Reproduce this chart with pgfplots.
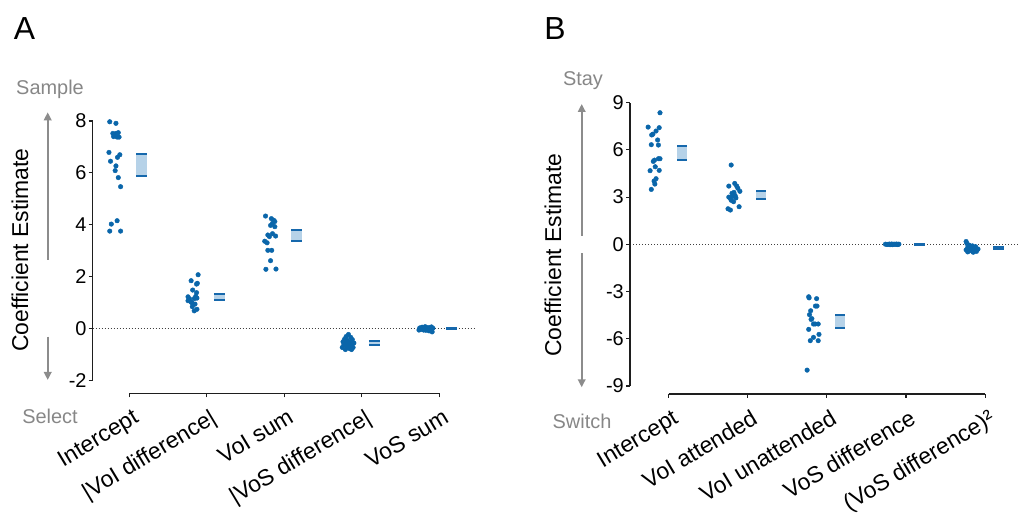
\documentclass[border=0pt]{standalone}
\usepackage{fontspec}
\setmainfont{Liberation Sans}
\usepackage{pgfplots}
\usepackage{pgfplotstable}
\pgfplotsset{compat=1.18}
\usetikzlibrary{arrows.meta}

\definecolor{dotblue}{RGB}{10,102,170}
\definecolor{boxfill}{RGB}{182,210,232}
\definecolor{boxedge}{RGB}{22,104,172}
\definecolor{arrowgray}{RGB}{140,140,140}
\definecolor{labelgray}{RGB}{135,135,135}
\definecolor{axisblack}{RGB}{30,30,30}

% ---------- Panel A: individual estimates (x = category + jitter) ----------
\pgfplotstableread{
x y
-0.25 7.97
-0.17 7.91
-0.21 7.52
-0.17 7.52
-0.14 7.55
-0.20 7.40
-0.155 7.38
-0.13 7.38
-0.26 6.79
-0.12 6.70
-0.15 6.60
-0.24 6.45
-0.17 6.27
-0.18 6.09
-0.14 5.82
-0.11 5.47
-0.155 4.16
-0.23 4.03
-0.25 3.76
-0.11 3.76
}\aIntercept

\pgfplotstableread{
x y
0.89 2.08
0.80 1.85
0.88 1.75
0.87 1.72
0.82 1.49
0.87 1.39
0.76 1.23
0.875 1.18
0.84 1.16
0.76 1.08
0.80 1.03
0.85 0.95
0.815 0.85
0.84 0.69
0.875 0.75
0.78 1.15
0.81 1.00
0.86 1.25
}\aVoIdiff

\pgfplotstableread{
x y
1.76 4.34
1.835 4.24
1.865 4.18
1.88 4.13
1.85 4.06
1.825 3.98
1.88 3.93
1.85 3.66
1.79 3.61
1.89 3.57
1.81 3.55
1.75 3.37
1.78 3.31
1.79 3.02
1.84 3.02
1.825 2.62
1.765 2.29
1.895 2.30
}\aVoIsum

\pgfplotstableread{
x y
2.83 -0.22
2.80 -0.30
2.86 -0.33
2.78 -0.40
2.88 -0.42
2.82 -0.45
2.76 -0.50
2.85 -0.52
2.80 -0.55
2.90 -0.55
2.83 -0.60
2.77 -0.62
2.87 -0.65
2.81 -0.68
2.75 -0.72
2.89 -0.72
2.84 -0.76
2.79 -0.80
2.87 -0.80
2.82 -0.70
}\aVoSdiff

\pgfplotstableread{
x y
3.75 0.03
3.78 0.06
3.81 0.02
3.84 0.05
3.87 0.04
3.90 0.07
3.76 -0.03
3.80 -0.05
3.85 -0.02
3.89 -0.04
3.91 -0.12
3.83 -0.06
3.87 -0.08
3.74 -0.05
3.79 0.00
3.88 0.00
3.82 0.08
3.92 0.02
}\aVoSsum

% ---------- Panel B: individual estimates ----------
\pgfplotstableread{
x y
-0.11 8.36
-0.26 7.45
-0.12 7.41
-0.16 7.20
-0.20 7.00
-0.215 6.95
-0.14 6.63
-0.22 6.33
-0.13 6.31
-0.195 5.27
-0.13 5.44
-0.11 5.44
-0.18 5.35
-0.17 4.93
-0.235 4.68
-0.12 4.70
-0.16 4.17
-0.185 4.02
-0.175 3.83
-0.22 3.49
}\bIntercept

\pgfplotstableread{
x y
0.79 5.04
0.76 3.70
0.835 3.87
0.86 3.70
0.875 3.56
0.90 3.37
0.80 3.24
0.76 3.00
0.775 2.95
0.80 3.03
0.84 3.10
0.82 2.71
0.89 2.39
0.75 2.26
0.78 2.18
0.79 2.80
0.85 2.95
0.825 3.30
}\bVoIatt

\pgfplotstableread{
x y
1.77 -3.33
1.87 -3.45
1.775 -3.40
1.855 -3.92
1.875 -3.92
1.795 -4.22
1.78 -4.47
1.80 -4.77
1.81 -4.72
1.83 -5.06
1.85 -5.06
1.89 -5.06
1.77 -5.40
1.90 -5.72
1.83 -5.91
1.79 -6.12
1.89 -6.12
1.75 -7.99
}\bVoIunatt

\pgfplotstableread{
x y
2.74 0.01
2.77 -0.01
2.79 0.02
2.81 0.00
2.83 -0.02
2.85 0.01
2.87 0.00
2.89 -0.01
2.91 0.01
2.76 0.00
2.82 0.02
2.88 0.02
2.80 -0.02
2.84 0.00
2.90 0.00
}\bVoSdiff

\pgfplotstableread{
x y
3.76 0.18
3.77 0.05
3.80 -0.05
3.84 -0.10
3.88 -0.15
3.78 -0.20
3.82 -0.25
3.86 -0.30
3.90 -0.35
3.76 -0.35
3.80 -0.40
3.84 -0.45
3.89 -0.45
3.78 -0.48
3.87 -0.20
3.82 -0.15
3.91 -0.30
3.85 -0.50
}\bVoSdiffsq

% confidence box: left x, right x, lower, upper
\newcommand\cibox[4]{%
  \addplot[draw=none, fill=boxfill] coordinates {(#1,#3) (#2,#3) (#2,#4) (#1,#4)};
  \addplot[boxedge, line width=2bp] coordinates {(#1,#3) (#2,#3)};
  \addplot[boxedge, line width=2bp] coordinates {(#1,#4) (#2,#4)};
}

\pgfplotsset{
  coefaxis/.style={
    scale only axis, clip=false,
    axis x line*=bottom, axis y line*=left,
    axis line style={draw=none},
    tick align=outside,
    major tick length=4bp,
    tick style={line width=1.1bp, color=axisblack},
    xtick={0,1,2,3,4},
    yticklabel style={font=\fontsize{20}{24}\selectfont, inner sep=2bp},
    xticklabel style={font=\fontsize{23}{27}\selectfont, xshift=3bp, yshift=-9bp,
      rotate=31, anchor=north east, inner sep=1bp},
  },
  dots/.style={only marks, mark=*, mark size=2.3bp, color=dotblue,
    mark options={draw=dotblue, fill=dotblue}},
}
\tikzset{
  axline/.style={line width=1.1bp, color=axisblack},
  zeroline/.style={line width=1.2bp, color=black!75, dash pattern=on 1.3bp off 1.7bp},
  grayarrow/.style={line width=2.4bp, color=arrowgray,
    -{Triangle[width=7.5bp,length=8bp]}},
}

\begin{document}
\begin{tikzpicture}[x=1bp, y=1bp]
\useasboundingbox (0,0) rectangle (1018,513);

% ------------------------------ Panel A ------------------------------
\begin{axis}[coefaxis,
  at={(92.7bp,119.7bp)}, anchor=south west,
  width=382.3bp, height=272.3bp,
  xmin=-0.47, xmax=4.463, ymin=-2.485, ymax=8,
  ytick={-2,0,2,4,6,8}, yticklabels={-2,0,2,4,6,8},
  xticklabels={Intercept, {|VoI difference|}, VoI sum, {|VoS difference|}, VoS sum},
]
  \draw[zeroline] (axis cs:-0.47,0) -- (axis cs:4.463,0);
  \draw[axline] (axis cs:-0.47,-2) -- (axis cs:-0.47,8);
  \draw[axline] (axis cs:0,-2.485) -- (axis cs:4,-2.485);

  \addplot[dots] table {\aIntercept};
  \addplot[dots] table {\aVoIdiff};
  \addplot[dots] table {\aVoIsum};
  \addplot[dots] table {\aVoSdiff};
  \addplot[dots] table {\aVoSsum};

  \cibox{0.095}{0.235}{5.90}{6.73}
  \cibox{1.095}{1.235}{1.09}{1.34}
  \cibox{2.095}{2.235}{3.37}{3.79}
  \cibox{3.095}{3.235}{-0.63}{-0.46}
  \cibox{4.095}{4.235}{-0.025}{0.025}
\end{axis}

% ------------------------------ Panel B ------------------------------
\begin{axis}[coefaxis,
  at={(630bp,119bp)}, anchor=south west,
  width=388bp, height=291.3bp,
  xmin=-0.489, xmax=4.416, ymin=-9.507, ymax=9,
  ytick={-9,-6,-3,0,3,6,9}, yticklabels={-9,-6,-3,0,3,6,9},
  xticklabels={Intercept, VoI attended, VoI unattended, VoS difference, (VoS difference)²},
]
  \draw[zeroline] (axis cs:-0.489,0) -- (axis cs:4.416,0);
  \draw[axline] (axis cs:-0.489,-9) -- (axis cs:-0.489,9);
  \draw[axline] (axis cs:0,-9.507) -- (axis cs:4,-9.507);

  \addplot[dots] table {\bIntercept};
  \addplot[dots] table {\bVoIatt};
  \addplot[dots] table {\bVoIunatt};
  \addplot[dots] table {\bVoSdiff};
  \addplot[dots] table {\bVoSdiffsq};

  \cibox{0.105}{0.235}{5.33}{6.28}
  \cibox{1.105}{1.235}{2.90}{3.41}
  \cibox{2.105}{2.235}{-5.32}{-4.49}
  \cibox{3.105}{3.235}{-0.03}{0.03}
  \cibox{4.105}{4.235}{-0.30}{-0.16}
\end{axis}

% ------------------------- labels and direction arrows -------------------------
\node[font=\fontsize{32}{36}\selectfont] at (24.5,484.5) {A};
\node[font=\fontsize{32}{36}\selectfont] at (555,484.5) {B};

\node[rotate=90, font=\fontsize{23}{27}\selectfont] at (20,263) {Coefficient Estimate};
\node[rotate=90, font=\fontsize{23}{27}\selectfont] at (553,258) {Coefficient Estimate};

\node[anchor=base, text=labelgray, font=\fontsize{20}{24}\selectfont] at (50,418.7) {Sample};
\node[anchor=base, text=labelgray, font=\fontsize{20}{24}\selectfont] at (50,89.7) {Select};
\node[anchor=base, text=labelgray, font=\fontsize{20}{24}\selectfont] at (583,427) {Stay};
\node[anchor=base, text=labelgray, font=\fontsize{20}{24}\selectfont] at (582,84.7) {Switch};

\draw[grayarrow] (47.7,253) -- (47.7,400.7);
\draw[grayarrow] (47.7,176.3) -- (47.7,133);
\draw[grayarrow] (581.7,277) -- (581.7,409);
\draw[grayarrow] (581.7,259.7) -- (581.7,125.7);
\end{tikzpicture}
\end{document}
